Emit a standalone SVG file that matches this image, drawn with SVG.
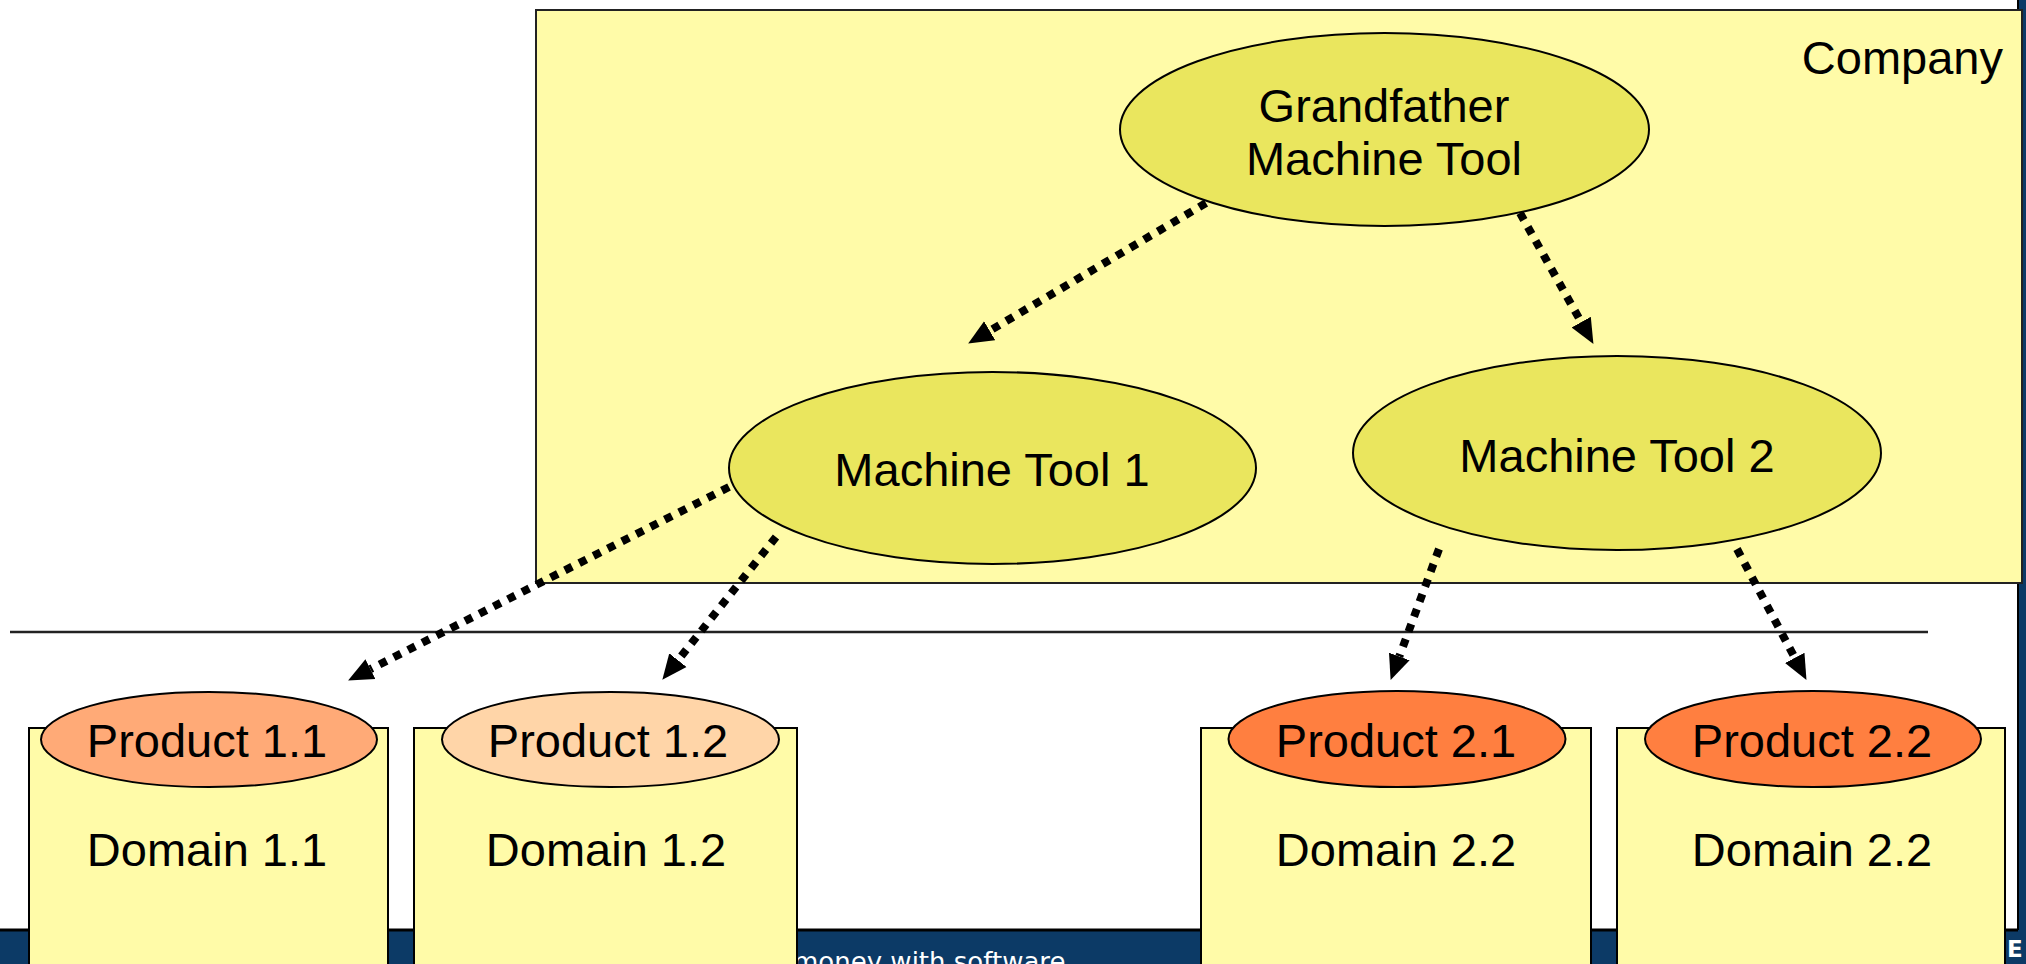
<svg xmlns="http://www.w3.org/2000/svg" width="2026" height="964" viewBox="0 0 2026 964">
  <style>
    .lbl { font-family: "Liberation Sans", Arial, sans-serif; font-size: 47px; fill: #000; text-anchor: middle; }
    .tool { fill: #EAE65E; stroke: #000; stroke-width: 2; }
    .domain { fill: #FFFBA8; stroke: #000; stroke-width: 2; }
    .prod { stroke: #000; stroke-width: 2; }
    .link { fill: none; stroke: #000; stroke-width: 8; stroke-dasharray: 8 8; marker-end: url(#head); }
    .foot { font-family: "DejaVu Sans", Verdana, sans-serif; fill: #fff; }
  </style>
  <defs>
    <marker id="head" markerUnits="userSpaceOnUse" markerWidth="26" markerHeight="24" viewBox="0 -12 26 24" refX="0" refY="0" orient="auto">
      <path d="M0,-11 L25,0 L0,11 z" fill="#000"/>
    </marker>
  </defs>

  <!-- page background and slide frame -->
  <rect x="0" y="0" width="2026" height="964" fill="#fff"/>
  <rect x="2018" y="0" width="8" height="964" fill="#0C3A66"/>
  <line x1="2018" y1="0" x2="2018" y2="930" stroke="#000" stroke-width="2"/>
  <rect x="0" y="930" width="2026" height="34" fill="#0C3A66"/>
  <line x1="0" y1="930" x2="2018" y2="930" stroke="#000" stroke-width="3"/>
  <text class="foot" x="793" y="971" font-size="26">money with software</text>
  <text class="foot" x="2007" y="957" font-size="23" font-weight="bold">E</text>

  <!-- company boundary -->
  <g id="company">
    <rect x="536" y="10" width="1486" height="573" fill="#FFFBA8" stroke="#222" stroke-width="2"/>
    <text class="lbl" x="2003" y="74" style="text-anchor:end">Company</text>
  </g>

  <!-- separator between company and markets -->
  <line x1="10" y1="632" x2="1928" y2="632" stroke="#222" stroke-width="2.5"/>

  <g id="grandfather">
    <ellipse class="tool" cx="1384.5" cy="129.5" rx="264.5" ry="96.5"/>
    <text class="lbl" x="1384" y="122">Grandfather</text>
    <text class="lbl" x="1384" y="175">Machine Tool</text>
  </g>

  <g id="tool1">
    <ellipse class="tool" cx="992.5" cy="468" rx="263.5" ry="96"/>
    <text class="lbl" x="992" y="486">Machine Tool 1</text>
  </g>

  <g id="tool2">
    <ellipse class="tool" cx="1617" cy="453" rx="264" ry="97"/>
    <text class="lbl" x="1617" y="472">Machine Tool 2</text>
  </g>

  <g id="domain11">
    <rect class="domain" x="29" y="728" width="359" height="250"/>
    <ellipse class="prod" cx="209" cy="739.5" rx="168" ry="47.5" fill="#FFAA77"/>
    <text class="lbl" x="207" y="757">Product 1.1</text>
    <text class="lbl" x="207" y="866">Domain 1.1</text>
  </g>

  <g id="domain12">
    <rect class="domain" x="414" y="728" width="383" height="250"/>
    <ellipse class="prod" cx="610.5" cy="739.5" rx="168.5" ry="47.5" fill="#FFD5A8"/>
    <text class="lbl" x="608" y="757">Product 1.2</text>
    <text class="lbl" x="606" y="866">Domain 1.2</text>
  </g>

  <g id="domain21">
    <rect class="domain" x="1201" y="728" width="390" height="250"/>
    <ellipse class="prod" cx="1397" cy="739" rx="168.5" ry="48" fill="#FF7F40"/>
    <text class="lbl" x="1396" y="757">Product 2.1</text>
    <text class="lbl" x="1396" y="866">Domain 2.2</text>
  </g>

  <g id="domain22">
    <rect class="domain" x="1617" y="728" width="388" height="250"/>
    <ellipse class="prod" cx="1813" cy="739" rx="168" ry="48" fill="#FF7F40"/>
    <text class="lbl" x="1812" y="757">Product 2.2</text>
    <text class="lbl" x="1812" y="866">Domain 2.2</text>
  </g>

  <!-- derivation links -->
  <g id="connectors">
    <line class="link" x1="1206" y1="203" x2="989.7" y2="330.8"/>
    <line class="link" x1="1520" y1="213" x2="1581.2" y2="322.1"/>
    <line class="link" x1="729" y1="487" x2="370.4" y2="669.1"/>
    <line class="link" x1="776" y1="537" x2="677.9" y2="660.2"/>
    <line class="link" x1="1439" y1="549" x2="1399.3" y2="656.5"/>
    <line class="link" x1="1737" y1="549" x2="1794.75" y2="657.8"/>
  </g>
</svg>
